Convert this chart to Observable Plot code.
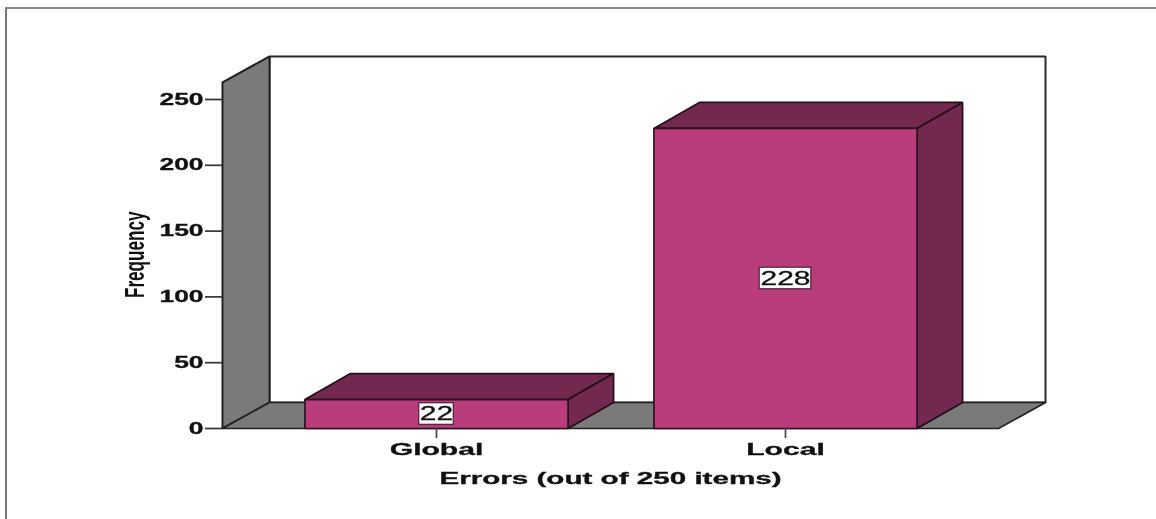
<!DOCTYPE html>
<html>
<head>
<meta charset="utf-8">
<script src="https://cdn.jsdelivr.net/npm/d3@7"></script>
<script src="https://cdn.jsdelivr.net/npm/@observablehq/plot@0.6"></script>
<style>
  html, body { margin: 0; padding: 0; background: #fff; overflow: hidden; }
  #wrap { position: relative; width: 1156px; height: 519px; }
  #wrap svg { display: block; filter: blur(0.45px); }
  #edge { position: absolute; left: 5px; top: 7px; right: 0; bottom: 0;
          border-left: 2px solid #777; border-top: 2px solid #888; }
</style>
</head>
<body>
<div id="wrap"><div id="edge"></div></div>
<script>
const categories = ["Global", "Local"];
const frequencies = [22, 228];
const yTicks = [0, 50, 100, 150, 200, 250];
const xTitle = "Errors (out of 250 items)";
const yTitle = "Frequency";

// Chart-space extents of the pseudo-3D box, in scale units
const xStart = -0.6132, xEnd = 1.6103, barHalf = 0.377;
const wallTop = 263, depthX = 0.1347, depthY = 19.76, barDepthX = 0.1304;

const poly = (face, pts) => pts.map(([x, y]) => ({face, x, y}));
const wallBack = poly("back", [[xStart + depthX, depthY], [xStart + depthX, wallTop + depthY], [xEnd + depthX, wallTop + depthY], [xEnd + depthX, depthY]]);
const wallSide = poly("side", [[xStart, 0], [xStart, wallTop], [xStart + depthX, wallTop + depthY], [xStart + depthX, depthY]]);
const floor = poly("floor", [[xStart, 0], [xEnd, 0], [xEnd + depthX, depthY], [xStart + depthX, depthY]]);

const fronts = [], sides = [], tops = [];
frequencies.forEach((v, i) => {
  const a = i - barHalf, b = i + barHalf;
  fronts.push(...poly("f" + i, [[a, 0], [a, v], [b, v], [b, 0]]));
  sides.push(...poly("s" + i, [[b, 0], [b, v], [b + barDepthX, v + depthY], [b + barDepthX, depthY]]));
  tops.push(...poly("t" + i, [[a, v], [a + barDepthX, v + depthY], [b + barDepthX, v + depthY], [b, v]]));
});

const face = (rows, fill, stroke, strokeWidth) =>
  Plot.line(rows, {x: "x", y: "y", z: "face", curve: "linear-closed", fill, stroke, strokeWidth, strokeLinejoin: "miter"});

const labels = frequencies.map((v, i) => ({x: i, y: v / 2, text: String(v), half: 0.0005 + 0.0245 * String(v).length}));

const chart = Plot.plot({
  width: 1156, height: 519,
  marginLeft: 222, marginRight: 158, marginTop: 99, marginBottom: 91,
  style: {background: "transparent", overflow: "visible", fontFamily: "'Liberation Sans', Arial, sans-serif"},
  x: {domain: [xStart, xEnd], type: "linear"},
  y: {domain: [0, 250], type: "linear"},
  marks: [
    face(wallBack, "#ffffff", "#2a2a2a", 2),
    face(wallSide, "#7a7a7a", "#222222", 2),
    face(floor, "#7a7a7a", "#222222", 1.7),
    face(tops, "#73294f", "#221018", 1.7),
    face(sides, "#73294f", "#221018", 1.7),
    face(fronts, "#b83d7a", "#2a1420", 1.7),
    Plot.axisY({ticks: yTicks, tickSize: 17, tickPadding: 2, label: null, fontSize: 16, fontWeight: "bold", fill: "#111", stroke: "#333", strokeWidth: 1.7}),
    Plot.axisX({ticks: [0, 1], tickFormat: i => categories[i], tickSize: 10, tickPadding: 5, fontSize: 16, fontWeight: "bold", fill: "#111", stroke: "#444", strokeWidth: 1.7,
      label: xTitle, labelAnchor: "center", labelArrow: "none", labelOffset: 55}),
    Plot.rect(labels, {x1: d => d.x - d.half, x2: d => d.x + d.half, y1: d => d.y - 8.2, y2: d => d.y + 8.2, fill: "#ffffff", stroke: "#4a2038", strokeWidth: 1.2}),
    Plot.text(labels, {x: "x", y: "y", text: "text", fontSize: 20, fill: "#111", className: "value-label"}),
    Plot.text([yTitle], {x: () => xStart - 0.2506, y: () => 132, rotate: -90, fontSize: 28, fontWeight: "bold", fill: "#111", className: "y-title"})
  ]
});
document.getElementById("wrap").appendChild(chart);

// The reference's type is stretched horizontally (condensed for the rotated title)
const stretch = (selector, k, ink) => chart.querySelectorAll(selector).forEach(t => {
  t.setAttribute("textLength", t.getComputedTextLength() * k);
  t.setAttribute("lengthAdjust", "spacingAndGlyphs");
  if (ink) { t.style.stroke = "#111"; t.style.strokeWidth = ink; }
});
chart.querySelectorAll('g[aria-label="x-axis label"] text').forEach(t => { t.style.fontWeight = "bold"; t.style.fontSize = "16px"; });
stretch('g[aria-label="y-axis tick label"] text', 1.65, 0.3);
stretch('g[aria-label="x-axis tick label"] text', 1.88, 0.3);
stretch('g[aria-label="x-axis label"] text', 1.85, 0.3);
stretch('g.value-label text', 1.5, 0.3);
stretch('g.y-title text', 0.61, 0);
</script>
</body>
</html>
